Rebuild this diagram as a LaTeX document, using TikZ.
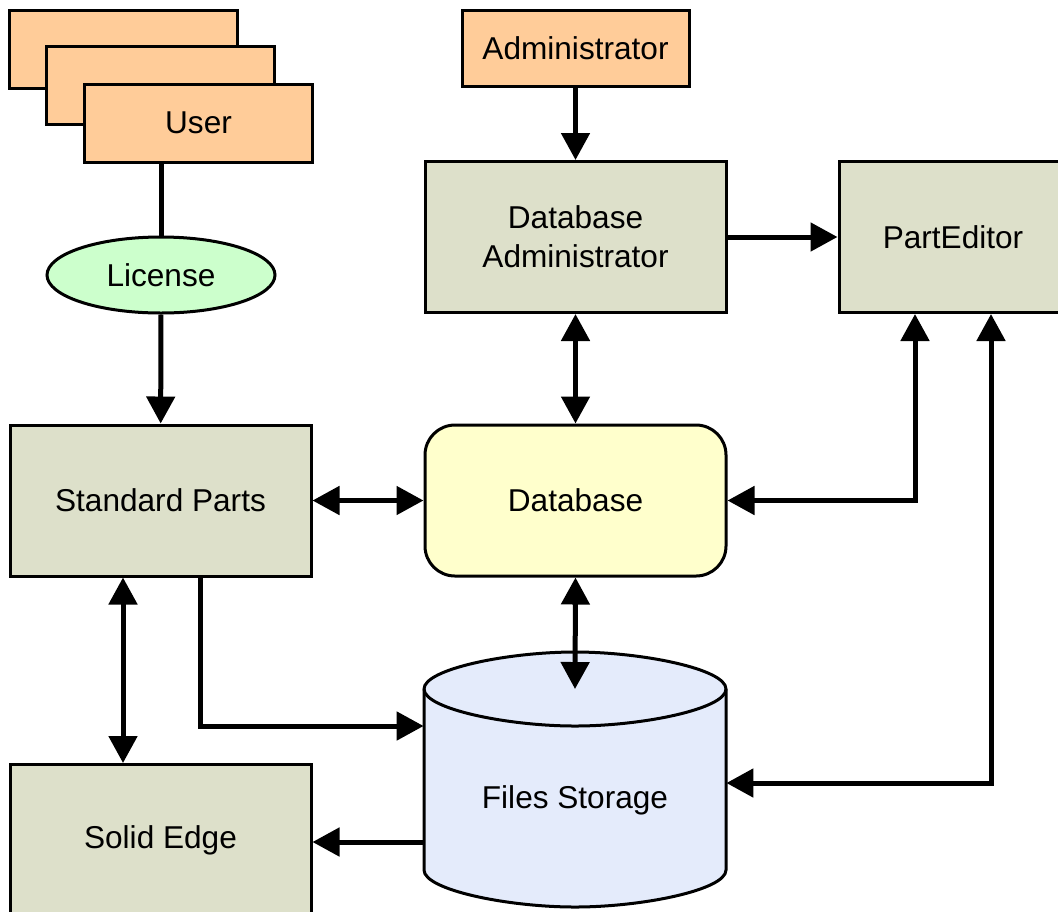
\documentclass[tikz,border=0pt]{standalone}
\usepackage{fontspec}
\setmainfont{Liberation Sans}
\usetikzlibrary{calc,shapes.geometric,arrows.meta}

\definecolor{userfill}{RGB}{255,204,153}
\definecolor{blockfill}{RGB}{221,224,202}
\definecolor{licfill}{RGB}{204,255,204}
\definecolor{dbfill}{RGB}{255,255,204}
\definecolor{storefill}{RGB}{228,235,251}

\tikzset{
    block/.style={draw, line width=1.5pt, fill=blockfill, inner sep=0pt,
        minimum width=150.5pt, minimum height=75.5pt, align=center},
    userbox/.style={draw, line width=1.5pt, fill=userfill, inner sep=0pt,
        minimum width=114pt, minimum height=39pt},
    store/.style={draw, line width=1.5pt, fill=storefill},
    conn/.style={line width=2.5pt},
    arr/.style={conn, -{Triangle[length=13.5pt,width=14pt]}},
    dblarr/.style={conn, {Triangle[length=13.5pt,width=14pt]}-{Triangle[length=13.5pt,width=14pt]}}
}

\begin{document}
\begin{tikzpicture}[x=0.5pt, y=-0.5pt, font=\fontsize{15.8}{19.5}\selectfont]
        \useasboundingbox (0,0) rectangle (1058,911);
        \clip (0,0) rectangle (1058,911);

        % users
        \node (user3) [userbox] at (123,49.5) {};
        \node (user2) [userbox] at (160.5,85) {};
        \node (user) [userbox] at (198.5,123) {User};
        \node (license) [ellipse, draw, line width=1.5pt, fill=licfill, inner sep=0pt,
            minimum width=114pt, minimum height=38pt] at (161,275) {License};

        \node (admin) [userbox, minimum width=113.5pt, minimum height=38pt] at (575.5,48) {Administrator};
        \node (dbadmin) [block] at (575.5,237) {Database\\Administrator};
        \node (parted) [block, minimum width=114pt] at (953,237) {PartEditor};

        \node (stdparts) [block] at (160.5,500.5) {Standard Parts};
        \node (database) [block, fill=dbfill, rounded corners=15pt] at (575.5,500.5) {Database};
        \node (solid) [block] at (160.5,840) {Solid Edge};

        % files storage cylinder
        \path [store] (424,689) -- (424,870)
            .. controls (424,890) and (508,907) .. (575,907)
            .. controls (642,907) and (726,890) .. (726,870)
            -- (726,689)
            .. controls (726,669) and (642,652) .. (575,652)
            .. controls (508,652) and (424,669) .. (424,689) -- cycle;
        \draw [line width=1.5pt] (424,689)
            .. controls (424,709) and (508,726) .. (575,726)
            .. controls (642,726) and (726,709) .. (726,689);
        \node (files) [inner sep=0pt, minimum width=151pt] at (575,800) {Files Storage};
        \coordinate (filestop) at ($(files.center)+(0,-111)$);

        % connections
        \draw [conn] (user.south -| license.north) -- (license);
        \draw [arr] (license) -- (stdparts);
        \draw [arr] (admin) -- (dbadmin);
        \draw [arr] (dbadmin.east) -- (parted.west);
        \draw [dblarr] (dbadmin) -- (database);
        \draw [dblarr] (stdparts) -- (database);
        \draw [dblarr] (database.east) -| ([xshift=-19pt]parted.south);
        \draw [dblarr] ([yshift=8.5pt]files.east) -| ([xshift=19pt]parted.south);
        \draw [dblarr] (database.south) -- (filestop);
        \draw [arr] ([xshift=19.75pt]stdparts.south) |- ([yshift=37pt]files.west);
        \draw [dblarr] ([xshift=-18.75pt]stdparts.south) -- ([xshift=-18.75pt]solid.north);
        \draw [arr] ([yshift=-21pt]files.west) -- ([yshift=-21pt]files.west -| solid.east);
    \end{tikzpicture}
\end{document}
